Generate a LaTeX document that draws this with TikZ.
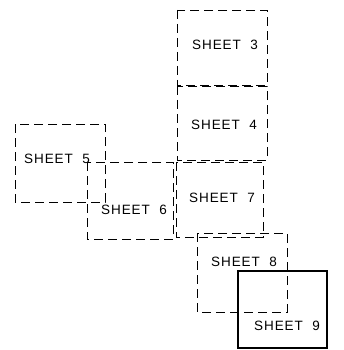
\documentclass[tikz,border=0pt]{standalone}
\usepackage{fontspec}
\setmainfont{Liberation Sans}[LetterSpace=7]
\begin{document}
\begin{tikzpicture}[x=1pt, y=-1pt, line width=0.8pt,
  sheet/.style={draw=black, dash pattern=on 9pt off 5pt},
  current/.style={draw=black, line width=2.6pt},
  label/.style={font=\fontsize{13.5}{15}\selectfont, inner sep=0pt}]
  \useasboundingbox (0,0) rectangle (343,350);
  % sheet 3
  \draw[sheet] (177,10) rectangle (267,85);
  \node[label] (s3) at (225,45) {SHEET\ \ 3};
  % sheet 4
  \draw[sheet] (177,86) rectangle (267,160);
  \node[label] (s4) at (224,125) {SHEET\ \ 4};
  % sheet 5
  \draw[sheet] (15,124) rectangle (105,202);
  \node[label] (s5) at (57,159) {SHEET\ \ 5};
  % sheet 6
  \draw[sheet] (87,162) rectangle (173,239);
  \node[label] (s6) at (134,210) {SHEET\ \ 6};
  % sheet 7
  \draw[sheet] (176,162) rectangle (263,237);
  \node[label] (s7) at (222,198) {SHEET\ \ 7};
  % sheet 8
  \draw[sheet] (197,233) rectangle (287,312);
  \node[label] (s8) at (244,262) {SHEET\ \ 8};
  % sheet 9 (this sheet)
  \draw[current] (238,271) rectangle (327,348);
  \node[label] (s9) at (287,326) {SHEET\ \ 9};
\end{tikzpicture}
\end{document}
